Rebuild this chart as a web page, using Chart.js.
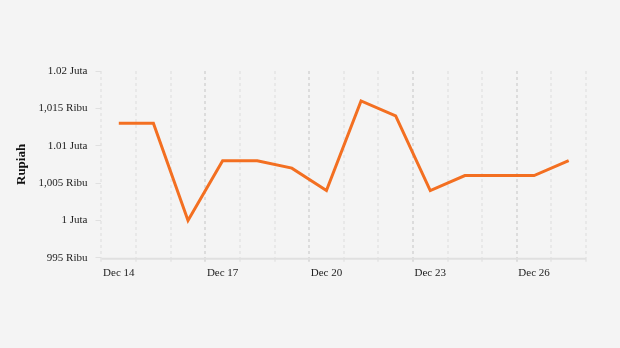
<!DOCTYPE html>
<html>
<head>
<meta charset="utf-8">
<script src="https://cdn.jsdelivr.net/npm/chart.js@4"></script>
<style>
  html, body { margin: 0; padding: 0; background: #f4f4f4; }
  #wrap { width: 620px; height: 348px; }
</style>
</head>
<body>
<div id="wrap"><canvas id="chart"></canvas></div>
<script>
// Data
const dates = ['Dec 14', 'Dec 15', 'Dec 16', 'Dec 17', 'Dec 18', 'Dec 19', 'Dec 20',
               'Dec 21', 'Dec 22', 'Dec 23', 'Dec 24', 'Dec 25', 'Dec 26', 'Dec 27'];
const prices = [1013000, 1013000, 1000000, 1008000, 1008000, 1007000, 1004000,
                1016000, 1014000, 1004000, 1006000, 1006000, 1006000, 1008000];
const yTickValues = [995000, 1000000, 1005000, 1010000, 1015000, 1020000];
const yTickLabels = ['995 Ribu', '1 Juta', '1,005 Ribu', '1.01 Juta', '1,015 Ribu', '1.02 Juta'];

const serif = '"Liberation Serif", "Times New Roman", serif';

// solid bottom axis line (grid lines are dashed)
const baseLine = {
    id: 'baseLine',
    afterDraw(chart) {
        const area = chart.chartArea;
        const ctx = chart.ctx;
        ctx.save();
        ctx.strokeStyle = '#e0e0e0';
        ctx.lineWidth = 2;
        ctx.beginPath();
        ctx.moveTo(area.left, area.bottom + 1);
        ctx.lineTo(area.right, area.bottom + 1);
        ctx.stroke();
        ctx.restore();
    }
};

new Chart(document.getElementById('chart'), {
    type: 'line',
    data: {
        labels: dates,
        datasets: [{
            data: prices,
            borderColor: '#f36f21',
            borderWidth: 3,
            pointRadius: 0,
            tension: 0,
            fill: false
        }]
    },
    options: {
        responsive: true,
        maintainAspectRatio: false,
        animation: false,
        layout: {
            padding: { top: 71, bottom: 63, left: 14, right: 34 }
        },
        plugins: {
            legend: { display: false },
            tooltip: { enabled: false }
        },
        scales: {
            x: {
                offset: true,
                grid: {
                    offset: true,
                    color: ctx => (ctx.index % 3 === 0 && ctx.index > 0) ? '#dcdcdc' : '#e8e8e8',
                    lineWidth: 2,
                    tickLength: 4
                },
                border: { display: false, dash: [3, 3] },
                ticks: {
                    autoSkip: false,
                    maxRotation: 0,
                    color: '#222',
                    padding: 5,
                    font: { family: serif, size: 11 },
                    callback: (val, i) => i % 3 === 0 ? dates[i] : ''
                }
            },
            y: {
                min: 995000,
                max: 1020000,
                afterBuildTicks: axis => {
                    axis.ticks = yTickValues.map(v => ({ value: v }));
                },
                grid: {
                    drawOnChartArea: false,
                    color: '#e0e0e0',
                    tickLength: 6
                },
                border: { display: false },
                ticks: {
                    color: '#222',
                    padding: 8,
                    font: { family: serif, size: 11 },
                    callback: v => yTickLabels[yTickValues.indexOf(v)]
                },
                title: {
                    display: true,
                    text: 'Rupiah',
                    color: '#111',
                    font: { family: serif, size: 13, weight: 'bold' },
                    padding: { top: 0, bottom: 1 }
                }
            }
        }
    },
    plugins: [baseLine]
});
</script>
</body>
</html>
